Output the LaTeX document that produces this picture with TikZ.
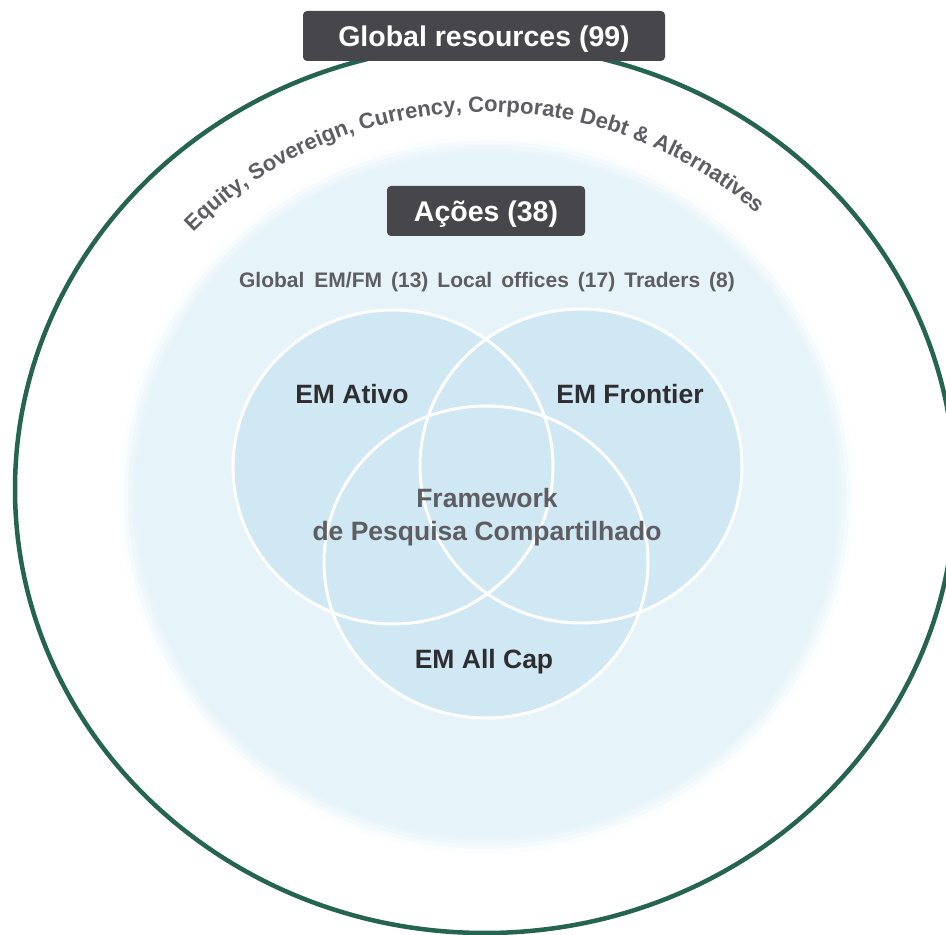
\documentclass[tikz,border=0pt]{standalone}
\usepackage{fontspec}
\setmainfont{Liberation Sans}
\usetikzlibrary{decorations.text}
\definecolor{ringgreen}{HTML}{266452}
\definecolor{boxgray}{HTML}{47474B}
\definecolor{bgblue}{HTML}{E6F4FA}
\definecolor{vennblue}{HTML}{CFE8F4}
\definecolor{labeldark}{HTML}{2E2E32}
\definecolor{labelgray}{HTML}{5D5D62}
\tikzset{
  darkbox/.style={fill=boxgray, text=white, rounded corners=4pt, inner sep=0pt,
    text depth=0pt, font=\fontsize{28.5}{30}\selectfont\bfseries},
  vennlabel/.style={text=labeldark, font=\fontsize{26.5}{28}\selectfont\bfseries},
  centerlabel/.style={text=labelgray, font=\fontsize{26.5}{33}\selectfont\bfseries, align=center},
  sublabel/.style={text=labelgray, font=\fontsize{21}{24}\selectfont\bfseries},
  vennfill/.style={fill=vennblue},
  vennline/.style={draw=white, line width=3pt}
}
\begin{document}
\begin{tikzpicture}[x=1pt,y=1pt]
\useasboundingbox (0,0) rectangle (946,935);
\fill[white] (0,0) rectangle (946,935);
% soft light-blue disc
\foreach \d/\o in {16/0.12, 11/0.25, 7/0.4, 3/0.65}{
  \fill[bgblue, opacity=\o] (487,440) ellipse [x radius=352+\d, y radius=343+\d];
}
\fill[bgblue] (487,440) ellipse [x radius=352, y radius=343];
% venn circles
\fill[vennfill] (393,468) ellipse [x radius=160, y radius=157];
\fill[vennfill] (581,469) ellipse [x radius=161, y radius=157];
\fill[vennfill] (486,373) ellipse [x radius=162, y radius=156];
\draw[vennline] (393,468) ellipse [x radius=160, y radius=157];
\draw[vennline] (581,469) ellipse [x radius=161, y radius=157];
\draw[vennline] (486,373) ellipse [x radius=162, y radius=156];
% outer green ring
\draw[ringgreen, line width=4.5pt] (485,446) ellipse [x radius=470, y radius=444];
% curved text
\path[decorate, decoration={text along path, text align=center,
  text={|\fontsize{22}{22}\selectfont\bfseries\color{labelgray}|Equity, Sovereign, Currency, Corporate Debt {\&} Alternatives}}]
  (485,446) ++(152:398 and 377) arc[start angle=152, end angle=32, x radius=398, y radius=377];
% boxes
\node[darkbox, minimum width=362pt, minimum height=50pt] (global) at (484,899) {Global resources (99)};
\node[darkbox, minimum width=198pt, minimum height=50pt] (acoes) at (486,724) {Ações (38)};
% labels
\node[sublabel] (teams) at (487,653) {Global\hspace{10pt}EM/FM\hspace{9pt}(13)\hspace{9pt}Local\hspace{9pt}offices\hspace{9pt}(17)\hspace{9pt}Traders\hspace{9pt}(8)};
\node[vennlabel] (ativo) at (352,541) {EM Ativo};
\node[vennlabel] (frontier) at (630,541) {EM Frontier};
\node[centerlabel] (framework) at (487,418) {Framework\\de Pesquisa Compartilhado};
\node[vennlabel] (allcap) at (484,273) {EM All Cap};
\end{tikzpicture}
\end{document}
